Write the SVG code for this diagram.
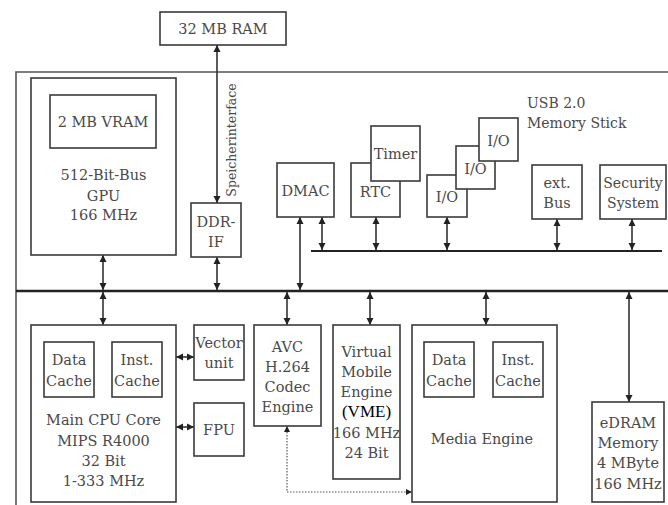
<svg xmlns="http://www.w3.org/2000/svg" width="668" height="505" viewBox="0 0 668 505">
<style>
.box{fill:#fff;stroke:#3a3a3a;stroke-width:1.6}
.t{font-family:'DejaVu Serif','Liberation Serif',serif;font-size:14.5px;fill:#4a4a4a;text-anchor:middle}
.l{text-anchor:start;font-size:14px}
.k{fill:#000}
.bus{stroke:#222;stroke-width:2.6;fill:none}
.ar{stroke:#333;stroke-width:1.6;fill:none;marker-start:url(#ah);marker-end:url(#ah)}
.dot{stroke:#555;stroke-width:1.2;fill:none;stroke-dasharray:1.5 1.5;marker-start:url(#ah2);marker-end:url(#ah2)}
</style>
<defs>
<marker id="ah" viewBox="0 0 10 10" refX="10" refY="5" markerWidth="7" markerHeight="8" markerUnits="userSpaceOnUse" orient="auto-start-reverse"><path d="M0,0 L10,5 L0,10 z" fill="#222"/></marker>
<marker id="ah2" viewBox="0 0 10 10" refX="10" refY="5" markerWidth="6" markerHeight="6" markerUnits="userSpaceOnUse" orient="auto-start-reverse"><path d="M0,0 L10,5 L0,10 z" fill="#222"/></marker>
</defs>
<rect width="668" height="505" fill="#fff"/>
<path d="M16,505 V72 H668" fill="none" stroke="#555" stroke-width="1.6"/>

<g id="connectors">
<line class="bus" x1="16" y1="291" x2="668" y2="291"/>
<line class="bus" x1="311" y1="251" x2="662" y2="251" style="stroke-width:2.2"/>
<line class="ar" x1="217" y1="45" x2="217" y2="203"/>
<line class="ar" x1="103" y1="255" x2="103" y2="290"/>
<line class="ar" x1="217" y1="257" x2="217" y2="290"/>
<line class="ar" x1="300" y1="217" x2="300" y2="290"/>
<line class="ar" x1="322" y1="217" x2="322" y2="250"/>
<line class="ar" x1="376" y1="217" x2="376" y2="250"/>
<line class="ar" x1="447" y1="217" x2="447" y2="250"/>
<line class="ar" x1="557" y1="219" x2="557" y2="250"/>
<line class="ar" x1="632" y1="219" x2="632" y2="250"/>
<line class="ar" x1="103" y1="292" x2="103" y2="325"/>
<line class="ar" x1="287" y1="292" x2="287" y2="325"/>
<line class="ar" x1="370" y1="292" x2="370" y2="325"/>
<line class="ar" x1="486" y1="292" x2="486" y2="325"/>
<line class="ar" x1="629" y1="292" x2="629" y2="402"/>
<line class="ar" x1="176" y1="357" x2="194" y2="357"/>
<line class="ar" x1="176" y1="427" x2="194" y2="427"/>
<path class="dot" d="M287,426 V492 H412"/>
<text class="t" style="font-size:12.5px" transform="translate(236,140) rotate(-90)">Speicherinterface</text>
</g>

<g id="ram"><rect class="box" x="160" y="12" width="126" height="33"/><text class="t" x="223" y="34">32 MB RAM</text></g>
<g id="gpu"><rect class="box" x="31" y="78" width="145" height="177"/>
<text class="t" x="103.5" y="180">512-Bit-Bus</text><text class="t" x="103.5" y="201">GPU</text><text class="t" x="103.5" y="220">166 MHz</text></g>
<g id="vram"><rect class="box" x="50" y="95" width="106" height="53"/><text class="t" x="103" y="127">2 MB VRAM</text></g>
<g id="ddrif"><rect class="box" x="191" y="203" width="50" height="54"/><text class="t" x="216" y="227">DDR-</text><text class="t" x="216" y="247">IF</text></g>
<g id="dmac"><rect class="box" x="277" y="163" width="57" height="54"/><text class="t" x="305.5" y="196">DMAC</text></g>
<g id="rtc"><rect class="box" x="351" y="163" width="49" height="54"/><text class="t" x="375.5" y="197">RTC</text></g>
<g id="timer"><rect class="box" x="371" y="126" width="49" height="55"/><text class="t" x="395.5" y="159">Timer</text></g>
<g id="io1"><rect class="box" x="427" y="175" width="40" height="42"/><text class="t" x="447" y="202">I/O</text></g>
<g id="io2"><rect class="box" x="456" y="146" width="39" height="43"/><text class="t" x="475.5" y="174">I/O</text></g>
<g id="io3"><rect class="box" x="479" y="118" width="39" height="43"/><text class="t" x="498.5" y="146">I/O</text></g>
<g id="usb"><text class="t l" x="527" y="108">USB 2.0</text><text class="t l" x="527" y="128">Memory Stick</text></g>
<g id="extbus"><rect class="box" x="532" y="165" width="50" height="54"/><text class="t" x="557" y="188">ext.</text><text class="t" x="557" y="208">Bus</text></g>
<g id="security"><rect class="box" x="600" y="165" width="66" height="54"/><text class="t" x="633" y="188" style="font-size:14px">Security</text><text class="t" x="633" y="208" style="font-size:14px">System</text></g>
<g id="cpu"><rect class="box" x="31" y="325" width="145" height="177"/>
<text class="t" x="103.5" y="425">Main CPU Core</text><text class="t" x="103.5" y="446">MIPS R4000</text><text class="t" x="103.5" y="466">32 Bit</text><text class="t" x="103.5" y="486">1-333 MHz</text></g>
<g id="cpu-dcache"><rect class="box" x="44" y="342" width="50" height="55"/><text class="t" x="69" y="365">Data</text><text class="t" x="69" y="386">Cache</text></g>
<g id="cpu-icache"><rect class="box" x="112" y="342" width="50" height="55"/><text class="t" x="137" y="365">Inst.</text><text class="t" x="137" y="386">Cache</text></g>
<g id="vector"><rect class="box" x="194" y="325" width="50" height="55"/><text class="t" x="219" y="348">Vector</text><text class="t" x="219" y="368">unit</text></g>
<g id="fpu"><rect class="box" x="194" y="403" width="50" height="53"/><text class="t" x="219" y="435">FPU</text></g>
<g id="avc"><rect class="box" x="254" y="325" width="67" height="101"/>
<text class="t" x="287.5" y="352">AVC</text><text class="t" x="287.5" y="372">H.264</text><text class="t" x="287.5" y="392">Codec</text><text class="t" x="287.5" y="412">Engine</text></g>
<g id="vme"><rect class="box" x="333" y="325" width="67" height="154"/>
<text class="t" x="366.5" y="357">Virtual</text><text class="t" x="366.5" y="377">Mobile</text><text class="t" x="366.5" y="397">Engine</text><text class="t k" x="366.5" y="417" style="font-family:'Liberation Serif',serif;font-size:17px">(VME)</text><text class="t" x="366.5" y="438">166 MHz</text><text class="t" x="366.5" y="458">24 Bit</text></g>
<g id="media"><rect class="box" x="412" y="325" width="145" height="177"/><text class="t" x="482" y="444">Media Engine</text></g>
<g id="media-dcache"><rect class="box" x="424" y="342" width="50" height="55"/><text class="t" x="449" y="365">Data</text><text class="t" x="449" y="386">Cache</text></g>
<g id="media-icache"><rect class="box" x="493" y="342" width="50" height="55"/><text class="t" x="518" y="365">Inst.</text><text class="t" x="518" y="386">Cache</text></g>
<g id="edram"><rect class="box" x="592" y="402" width="72" height="100"/>
<text class="t" x="628" y="428">eDRAM</text><text class="t" x="628" y="448">Memory</text><text class="t" x="628" y="468">4 MByte</text><text class="t" x="628" y="489">166 MHz</text></g>
</svg>
